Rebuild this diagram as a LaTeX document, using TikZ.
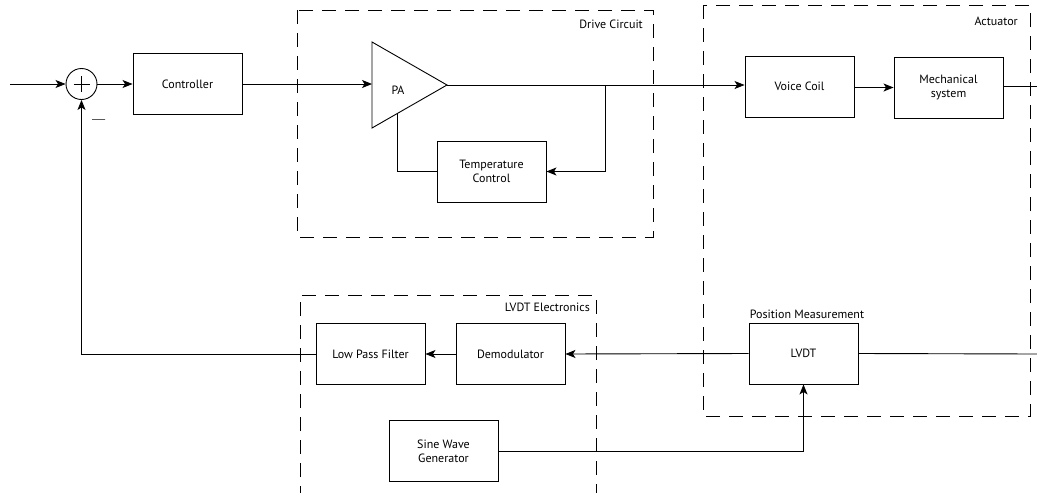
\documentclass[tikz,border=0pt]{standalone}
\usepackage{fontspec}
\setmainfont{PT Sans}
\usetikzlibrary{arrows.meta,shapes.geometric,calc}
\begin{document}
\begin{tikzpicture}[x=1pt,y=-1pt,
  blk/.style={draw,line width=0.9pt,minimum width=109pt,minimum height=61pt,inner sep=0pt,align=center,font=\fontsize{12}{14}\selectfont},
  grp/.style={draw,line width=0.9pt,dash pattern=on 14pt off 9pt},
  lbl/.style={font=\fontsize{12}{14}\selectfont,inner sep=0pt},
  conn/.style={line width=0.9pt},
  arr/.style={conn,-{Stealth[length=10pt,width=8pt,inset=2.5pt]}}]
\useasboundingbox (0,0) rectangle (1037,493);
% groups
\draw[grp] (297,10) rectangle (653,237);
\node[lbl,anchor=east] (dcl) at (643,24) {Drive Circuit};
\draw[grp] (703,5) rectangle (1030,416);
\node[lbl,anchor=east] (acl) at (1018,21) {Actuator};
\draw[grp] (300,500) -- (300,295) -- (596,295) -- (596,500);
\node[lbl,anchor=east] (lel) at (590,307) {LVDT Electronics};
% nodes
\coordinate (in) at (10,84);
\node[draw,circle,line width=0.9pt,minimum size=31pt,inner sep=0pt] (sum) at (81.5,84) {};
\draw[line width=0.9pt] ($(sum.center)+(-8,0)$) -- ($(sum.center)+(8,0)$) ($(sum.center)+(0,-8)$) -- ($(sum.center)+(0,8)$);
\node[draw,line width=1pt,minimum width=13pt,minimum height=0pt,inner sep=0pt] (minus) at (98.5,119) {};
\node[blk] (ctrl) at (187.5,84) {Controller};
\coordinate (paA) at (372,42);
\coordinate (paB) at (372,128);
\coordinate (paC) at (447,85);
\draw[line width=0.9pt] (paA) -- (paC) -- (paB) -- cycle;
\node[lbl] (pa) at (398,90) {PA};
\node[blk] (temp) at (491.5,171.5) {Temperature\\Control};
\node[blk] (vc) at (799.5,86.5) {Voice Coil};
\node[blk] (mech) at (948.5,87.5) {Mechanical\\system};
\coordinate (out) at (1037,86);
\node[blk] (lvdt) at (803.5,353.5) {LVDT};
\node[lbl,anchor=south] (pml) at (807,319) {Position Measurement};
\coordinate (lin) at (1037,354);
\node[blk] (demod) at (510.5,354) {Demodulator};
\node[blk] (lpf) at (370.5,354) {Low Pass Filter};
\node[blk] (sine) at (443.5,451) {Sine Wave\\Generator};
% connectors
\draw[arr] (in) -- (sum.west);
\draw[arr] (sum.east) -- (ctrl.west);
\draw[arr] (ctrl.east) -- (372,84);
\draw[arr] (paC) -- (vc.west |- paC);
\coordinate (tap) at (605,85);
\draw[arr] (tap) |- (temp.east);
\draw[conn] (temp.west) -| (397,113.5);
\draw[arr] (vc.east |- mech.west) -- (mech.west);
\draw[conn] (mech.east |- out) -- (out);
\draw[conn] (lin) -- (lvdt.east);
\draw[arr] (lvdt.west) -- (demod.east);
\draw[arr] (demod.west) -- (lpf.east);
\draw[arr] (lpf.west) -| (sum.south);
\draw[arr] (sine.east) -| (lvdt.south);
\end{tikzpicture}
\end{document}
